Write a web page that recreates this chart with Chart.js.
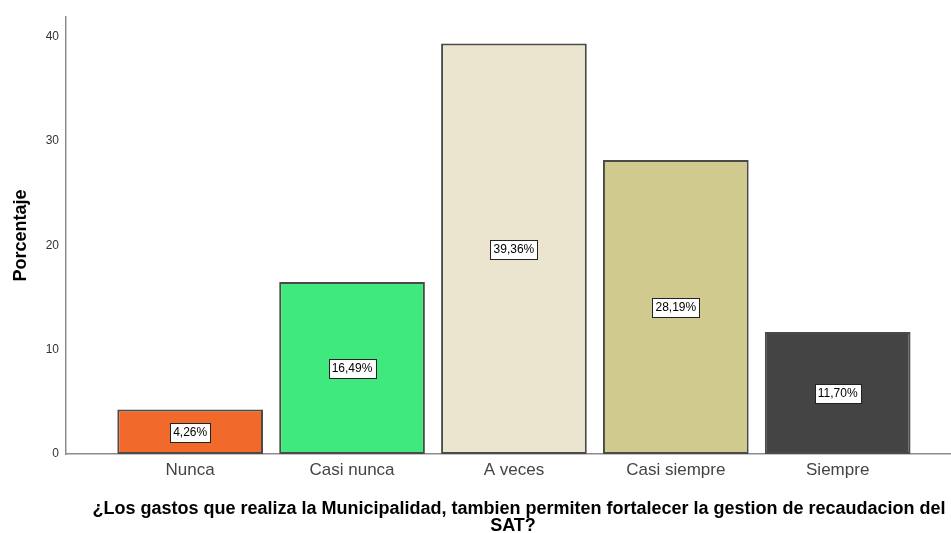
<!DOCTYPE html>
<html>
<head>
<meta charset="utf-8">
<script src="https://cdn.jsdelivr.net/npm/chart.js@4.4.0/dist/chart.umd.min.js"></script>
<style>
  html, body { margin: 0; padding: 0; background: #fff; }
  #wrap { width: 951px; height: 533px; position: relative; }
</style>
</head>
<body>
<div id="wrap"><canvas id="chart"></canvas></div>
<script>
// Data
const categories = ['Nunca', 'Casi nunca', 'A veces', 'Casi siempre', 'Siempre'];
const percentages = [4.26, 16.49, 39.36, 28.19, 11.70];
const yTicks = [0, 10, 20, 30, 40];
const barColors = ['#F2692C', '#40E97D', '#EBE5CF', '#D1CA8F', '#444444'];

const xTitle = ['¿Los gastos que realiza la Municipalidad, tambien permiten fortalecer la gestion de recaudacion del', 'SAT?'];

// Labels in white boxes at middle of each bar
const boxLabels = {
    id: 'boxLabels',
    afterDatasetsDraw(chart) {
        const ctx = chart.ctx;
        const meta = chart.getDatasetMeta(0);
        ctx.save();
        ctx.font = '12px "Liberation Sans", Arial, sans-serif';
        ctx.textAlign = 'center';
        ctx.textBaseline = 'middle';
        meta.data.forEach((bar, i) => {
            const txt = percentages[i].toFixed(2).replace('.', ',') + '%';
            const cy = Math.round((bar.y + bar.base) / 2);
            const w = Math.round(ctx.measureText(txt).width + 6);
            const h = 19;
            const x0 = Math.round(bar.x - w / 2) + 0.5;
            const y0 = Math.round(cy - h / 2) + 0.5;
            ctx.fillStyle = '#fff';
            ctx.fillRect(x0, y0, w, h);
            ctx.strokeStyle = '#222';
            ctx.lineWidth = 1;
            ctx.strokeRect(x0, y0, w, h);
            ctx.fillStyle = '#000';
            ctx.fillText(txt, bar.x, cy + 1);
        });
        ctx.restore();
    }
};

// X axis title, drawn by hand so the first line can run to the right edge like SPSS does
const xTitlePlugin = {
    id: 'xTitlePlugin',
    afterDraw(chart) {
        const ctx = chart.ctx;
        ctx.save();
        ctx.font = 'bold 18px "Liberation Sans", Arial, sans-serif';
        ctx.fillStyle = '#000';
        ctx.textAlign = 'center';
        ctx.textBaseline = 'middle';
        ctx.fillText(xTitle[0], 519, 509);
        ctx.fillText(xTitle[1], 513, 526);
        ctx.restore();
    }
};

const ctx = document.getElementById('chart').getContext('2d');
new Chart(ctx, {
    type: 'bar',
    data: {
        datasets: [{
            data: percentages.map((v, i) => ({ x: i, y: v })),
            backgroundColor: barColors,
            borderColor: '#4a4a4a',
            borderWidth: 2,
            borderSkipped: false,
            barPercentage: 0.9,
            categoryPercentage: 1.0
        }]
    },
    options: {
        responsive: true,
        maintainAspectRatio: false,
        animation: false,
        layout: { padding: { top: 17, right: 0, left: 0, bottom: 0 } },
        plugins: {
            legend: { display: false },
            tooltip: { enabled: false }
        },
        scales: {
            x: {
                type: 'linear',
                offset: false,
                min: -0.767,
                max: 4.70,
                afterBuildTicks: (scale) => {
                    scale.ticks = categories.map((c, i) => ({ value: i }));
                },
                afterFit: (scale) => { scale.height = 79; },
                grid: { display: false, drawTicks: false },
                border: { color: '#8c8c8c', width: 1.5 },
                ticks: {
                    autoSkip: false,
                    maxRotation: 0,
                    padding: 6,
                    color: '#444',
                    font: { family: '"Liberation Sans", Arial, sans-serif', size: 17 },
                    callback: (v) => categories[v]
                },
                title: { display: false }
            },
            y: {
                min: 0,
                max: 41.9,
                afterBuildTicks: (scale) => {
                    scale.ticks = yTicks.map(v => ({ value: v }));
                },
                afterFit: (scale) => { scale.width = 66; },
                grid: { display: false, drawTicks: false },
                border: { color: '#8c8c8c', width: 1.5 },
                ticks: {
                    padding: 7,
                    color: '#333',
                    font: { family: '"Liberation Sans", Arial, sans-serif', size: 12 }
                },
                title: {
                    display: true,
                    text: 'Porcentaje',
                    color: '#000',
                    padding: { top: 10, bottom: 4 },
                    font: { family: '"Liberation Sans", Arial, sans-serif', size: 18, weight: 'bold' }
                }
            }
        }
    },
    plugins: [boxLabels, xTitlePlugin]
});
</script>
</body>
</html>
